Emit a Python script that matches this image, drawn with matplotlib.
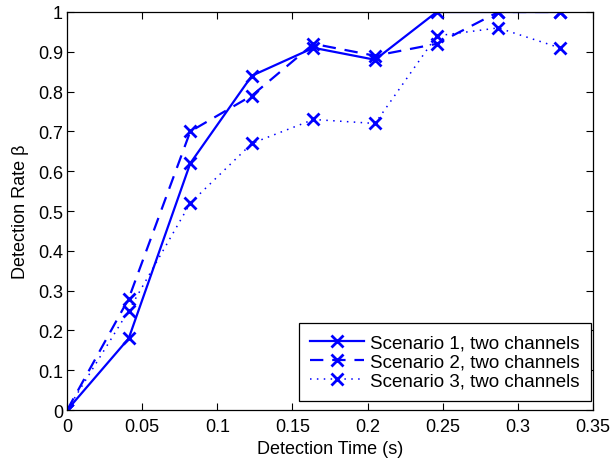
import matplotlib
matplotlib.use("Agg")
import matplotlib.pyplot as plt

plt.rcParams['font.family'] = ['Liberation Sans', 'DejaVu Sans']

time_s = [0, 0.041, 0.082, 0.123, 0.164, 0.205, 0.246, 0.287, 0.328]
scenario1 = [0, 0.18, 0.62, 0.84, 0.91, 0.88, 1.0, 1.0, 1.0]
scenario2 = [0, 0.28, 0.70, 0.79, 0.92, 0.89, 0.92, 1.0, 1.0]
scenario3 = [0, 0.25, 0.52, 0.67, 0.73, 0.72, 0.94, 0.96, 0.91]
labels = ["Scenario 1, two channels", "Scenario 2, two channels", "Scenario 3, two channels"]
xticks = [0, 0.05, 0.1, 0.15, 0.2, 0.25, 0.3, 0.35]
yticks = [0, 0.1, 0.2, 0.3, 0.4, 0.5, 0.6, 0.7, 0.8, 0.9, 1.0]

fig = plt.figure(figsize=(6.10, 4.64), dpi=100)
ax = fig.add_axes([0.110, 0.114, 0.862, 0.858])

blue = (0, 0, 1)
ax.plot(time_s, scenario1, '-', color=blue, lw=1.6, marker='x', ms=8, mew=2, label=labels[0])
ax.plot(time_s, scenario2, '--', color=blue, lw=1.6, marker='x', ms=8, mew=2, label=labels[1],
        dashes=(6, 4))
ax.plot(time_s, scenario3, ':', color=blue, lw=1.1, marker='x', ms=8, mew=2, label=labels[2],
        dashes=(1, 3.5))

ax.set_xlim(0, 0.35)
ax.set_ylim(0, 1)
ax.set_xticks(xticks)
ax.set_xticklabels(['0', '0.05', '0.1', '0.15', '0.2', '0.25', '0.3', '0.35'])
ax.set_yticks(yticks)
ax.set_yticklabels(['0', '0.1', '0.2', '0.3', '0.4', '0.5', '0.6', '0.7', '0.8', '0.9', '1'])
ax.tick_params(direction='in', top=True, right=True, labelsize=13, length=5)
ax.tick_params(axis='x', pad=6)
ax.tick_params(axis='y', pad=3)
for s in ax.spines.values():
    s.set_linewidth(0.9)
ax.set_xlabel('Detection Time (s)', fontsize=13, labelpad=3)
ax.set_ylabel('Detection Rate β', fontsize=13, labelpad=6)

leg = ax.legend(loc='lower right', bbox_to_anchor=(0.996, 0.023), fontsize=13.5,
                frameon=True, fancybox=False, edgecolor='black', framealpha=1,
                borderaxespad=0, handlelength=2.9, handletextpad=0.3,
                borderpad=0.6, labelspacing=0.1)
leg.get_frame().set_linewidth(0.9)

fig.savefig('out.png', dpi=100)
